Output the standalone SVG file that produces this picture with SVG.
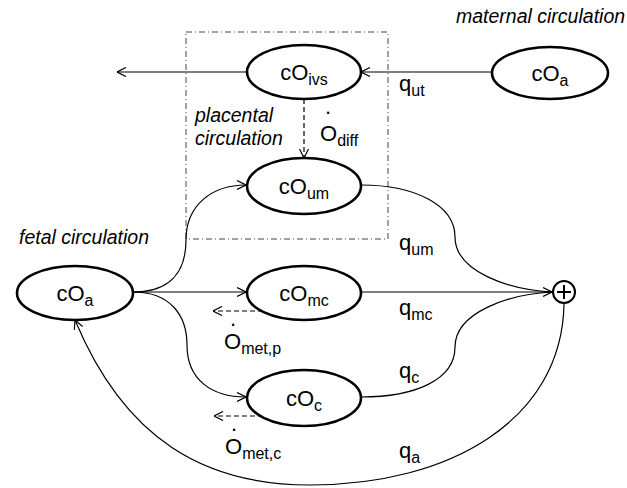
<svg xmlns="http://www.w3.org/2000/svg" width="627" height="488" viewBox="0 0 627 488">
<defs>
<marker id="arr" markerUnits="userSpaceOnUse" viewBox="0 0 10 10" markerWidth="10" markerHeight="10" refX="9.5" refY="5" orient="auto">
<path d="M0.5,0.5 L9.5,5 L0.5,9.5" fill="none" stroke="#000" stroke-width="1.2"/>
</marker>
</defs>
<style>
.node ellipse{fill:#fff;stroke:#000;stroke-width:2.6}
.lbl{font-family:"Liberation Sans",Arial,sans-serif;font-size:22px;fill:#000}
.sub{font-size:16px}
.ital{font-family:"Liberation Sans",Arial,sans-serif;font-size:19.5px;font-style:italic;fill:#000}
.edge{fill:none;stroke:#000;stroke-width:1.2}
.dash{fill:none;stroke:#000;stroke-width:1.2;stroke-dasharray:5 3}
.box{fill:none;stroke:#444;stroke-width:1;stroke-dasharray:6 3 1 3}
</style>
<rect width="627" height="488" fill="#fff"/>
<rect class="box" x="186" y="32" width="202" height="207"/>
<g id="connectors">
<path class="edge" d="M246,72 L117,72" marker-end="url(#arr)"/>
<path class="edge" d="M492,72 L361,72" marker-end="url(#arr)"/>
<path class="dash" d="M304,99 L304,158" marker-end="url(#arr)"/>
<path class="edge" d="M133,292 C170,292 186,272 186,240 C186,205 212,185 246,185" marker-end="url(#arr)"/>
<path class="edge" d="M133,292 L246,292" marker-end="url(#arr)"/>
<path class="edge" d="M133,292 C170,292 187,315 187,345 C187,380 212,397 246,397" marker-end="url(#arr)"/>
<path class="edge" d="M361,185 C415,185 455,205 455,237 C455,272 510,290 552,292"/>
<path class="edge" d="M361,292 L552,292" marker-end="url(#arr)"/>
<path class="edge" d="M361,397 C415,397 455,380 455,347 C455,312 510,294 552,292"/>
<path class="edge" d="M564,304 C562,420 450,485 310,485 C205,485 125,440 75,320" marker-end="url(#arr)"/>
<path class="dash" d="M263,311 L213,311" marker-end="url(#arr)"/>
<path class="dash" d="M263,416 L214,416" marker-end="url(#arr)"/>
</g>
<g id="n_ivs" class="node"><ellipse cx="304" cy="72" rx="57" ry="27"/><text class="lbl" x="304" y="80" text-anchor="middle">cO<tspan class="sub" dy="5">ivs</tspan></text></g>
<g id="n_mat" class="node"><ellipse cx="550" cy="73" rx="58" ry="26"/><text class="lbl" x="550" y="81" text-anchor="middle">cO<tspan class="sub" dy="5">a</tspan></text></g>
<g id="n_um" class="node"><ellipse cx="304" cy="186" rx="57" ry="28"/><text class="lbl" x="304" y="194" text-anchor="middle">cO<tspan class="sub" dy="5">um</tspan></text></g>
<g id="n_fa" class="node"><ellipse cx="75" cy="293" rx="58" ry="27"/><text class="lbl" x="75" y="301" text-anchor="middle">cO<tspan class="sub" dy="5">a</tspan></text></g>
<g id="n_mc" class="node"><ellipse cx="304" cy="293" rx="57" ry="27"/><text class="lbl" x="304" y="301" text-anchor="middle">cO<tspan class="sub" dy="5">mc</tspan></text></g>
<g id="n_c" class="node"><ellipse cx="304" cy="398" rx="57" ry="28"/><text class="lbl" x="304" y="406" text-anchor="middle">cO<tspan class="sub" dy="5">c</tspan></text></g>
<g id="n_sum"><circle cx="564" cy="292" r="11" fill="#fff" stroke="#000" stroke-width="2"/><path d="M557,292 H571 M564,285 V299" stroke="#000" stroke-width="2"/></g>
<g id="labels">
<text class="ital" x="456" y="23">maternal circulation</text>
<text class="ital" x="19" y="244">fetal circulation</text>
<text class="ital" x="195" y="122">placental</text>
<text class="ital" x="195" y="145">circulation</text>
<text class="lbl" x="399" y="91">q<tspan class="sub" dy="5">ut</tspan></text>
<text class="lbl" x="399" y="250">q<tspan class="sub" dy="5">um</tspan></text>
<text class="lbl" x="399" y="315">q<tspan class="sub" dy="5">mc</tspan></text>
<text class="lbl" x="399" y="378">q<tspan class="sub" dy="5">c</tspan></text>
<text class="lbl" x="399" y="458">q<tspan class="sub" dy="5">a</tspan></text>
<text class="lbl" x="328" y="114" text-anchor="middle">.</text>
<text class="lbl" x="320" y="141">O<tspan class="sub" dy="5">diff</tspan></text>
<text class="lbl" x="233" y="326" text-anchor="middle">.</text>
<text class="lbl" x="224" y="349">O<tspan class="sub" dy="5">met,p</tspan></text>
<text class="lbl" x="234" y="431" text-anchor="middle">.</text>
<text class="lbl" x="225" y="454">O<tspan class="sub" dy="5">met,c</tspan></text>
</g>
</svg>
